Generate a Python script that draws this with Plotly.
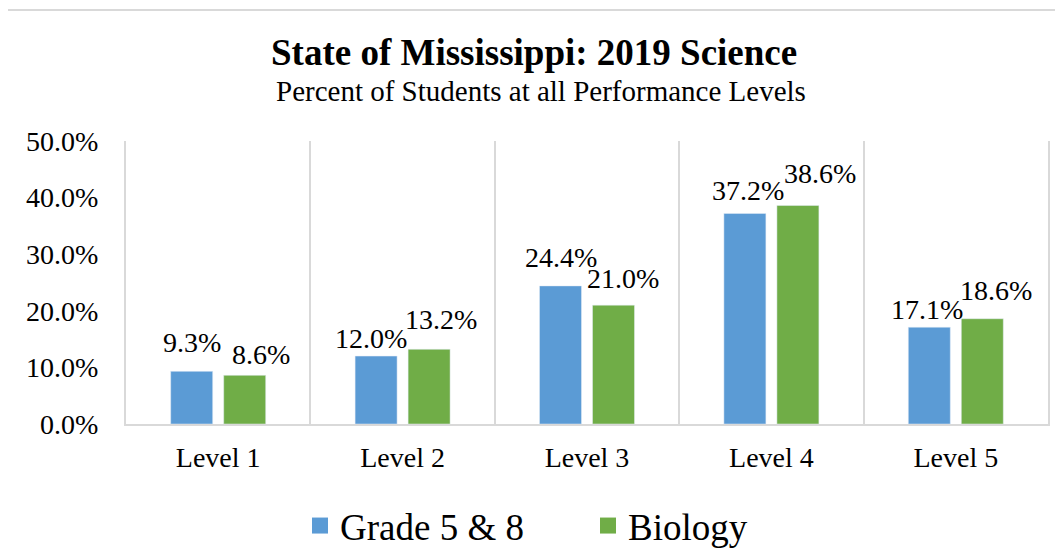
import plotly.graph_objects as go

categories = ["Level 1", "Level 2", "Level 3", "Level 4", "Level 5"]
grade58 = [9.3, 12.0, 24.4, 37.2, 17.1]
biology = [8.6, 13.2, 21.0, 38.6, 18.6]
series_names = ["Grade 5 & 8", "Biology"]
y_ticks = [0, 10, 20, 30, 40, 50]

BLUE = "#5B9BD5"
GREEN = "#70AD47"
GRID = "#D9D9D9"
FONT = "Liberation Serif"

# label nudges (style), px: relative to each bar centre
blue_dx = [0, -5, 0, 3, -2]
green_dx = [16, 12, 9, 22, 14]
blue_gap = [18, 7, 18, 12, 7]
green_gap = [10, 19, 16, 22, 18]
BAR_OFF = 26.5

# page offset of the figure inside the browser (body margin)
OFF = 8
W, H = 1063, 555
L, T = 126 - OFF, 141 - OFF
pw, ph = 922, 283
R = W - L - pw
B = H - T - ph

def px_to_paper_x(px):
    return (px - OFF - L) / pw

def px_to_paper_y(py):
    return (T + ph - (py - OFF)) / ph

fig = go.Figure()
fig.add_trace(go.Bar(x=categories, y=grade58, name=series_names[0],
                     marker=dict(color=BLUE), showlegend=False))
fig.add_trace(go.Bar(x=categories, y=biology, name=series_names[1],
                     marker=dict(color=GREEN), showlegend=False))
# legend entries
fig.add_trace(go.Scatter(x=[None], y=[None], mode="markers", name=series_names[0],
                         marker=dict(symbol="square", size=16, color=BLUE)))
fig.add_trace(go.Scatter(x=[None], y=[None], mode="markers", name=series_names[1],
                         marker=dict(symbol="square", size=16, color=GREEN)))

annotations = []
for i, c in enumerate(categories):
    annotations.append(dict(x=c, y=grade58[i], xref="x", yref="y",
                            text=f"{grade58[i]:.1f}%", showarrow=False,
                            xanchor="center", yanchor="bottom",
                            xshift=-BAR_OFF + blue_dx[i], yshift=blue_gap[i] - 7,
                            font=dict(family=FONT, size=28, color="#000")))
    annotations.append(dict(x=c, y=biology[i], xref="x", yref="y",
                            text=f"{biology[i]:.1f}%", showarrow=False,
                            xanchor="center", yanchor="bottom",
                            xshift=BAR_OFF + green_dx[i], yshift=green_gap[i] - 7,
                            font=dict(family=FONT, size=28, color="#000")))

annotations.append(dict(x=px_to_paper_x(534), y=px_to_paper_y(52), xref="paper", yref="paper",
                        text="<b>State of Mississippi: 2019 Science</b>", showarrow=False,
                        xanchor="center", yanchor="middle",
                        font=dict(family=FONT, size=37, color="#000")))
annotations.append(dict(x=px_to_paper_x(541), y=px_to_paper_y(91), xref="paper", yref="paper",
                        text="Percent of Students at all Performance Levels", showarrow=False,
                        xanchor="center", yanchor="middle",
                        font=dict(family=FONT, size=29, color="#000")))

fig.update_layout(
    width=W, height=H,
    margin=dict(l=L, r=R, t=T, b=B, autoexpand=False),
    paper_bgcolor="white", plot_bgcolor="white",
    barmode="group", bargap=0.425, bargroupgap=0.208,
    font=dict(family=FONT, size=28, color="#000"),
    annotations=annotations,
    showlegend=True,
    legend=dict(orientation="h", xref="paper", yref="paper",
                x=px_to_paper_x(588), xanchor="center", y=px_to_paper_y(526), yanchor="middle",
                font=dict(family=FONT, size=37, color="#000"),
                entrywidth=243, entrywidthmode="pixels",
                bgcolor="rgba(0,0,0,0)"),
    shapes=[dict(type="rect", xref="paper", yref="paper",
                 x0=px_to_paper_x(3), x1=px_to_paper_x(1058),
                 y0=px_to_paper_y(600), y1=px_to_paper_y(10),
                 line=dict(color=GRID, width=2), fillcolor="rgba(0,0,0,0)", layer="below")],
)
fig.update_xaxes(type="category", tickson="boundaries", showgrid=True, gridcolor=GRID,
                 gridwidth=2, showline=True, linecolor=GRID, linewidth=2, ticks="",
                 ticklabelstandoff=7, tickfont=dict(family=FONT, size=28, color="#000"))
fig.update_yaxes(range=[0, 50], tickvals=y_ticks, ticktext=[f"{v:.1f}%" for v in y_ticks],
                 showgrid=False, zeroline=False, showline=True, mirror=True,
                 linecolor=GRID, linewidth=2, ticks="", ticklabelstandoff=20,
                 tickfont=dict(family=FONT, size=28, color="#000"))

fig.write_html("out.html")
